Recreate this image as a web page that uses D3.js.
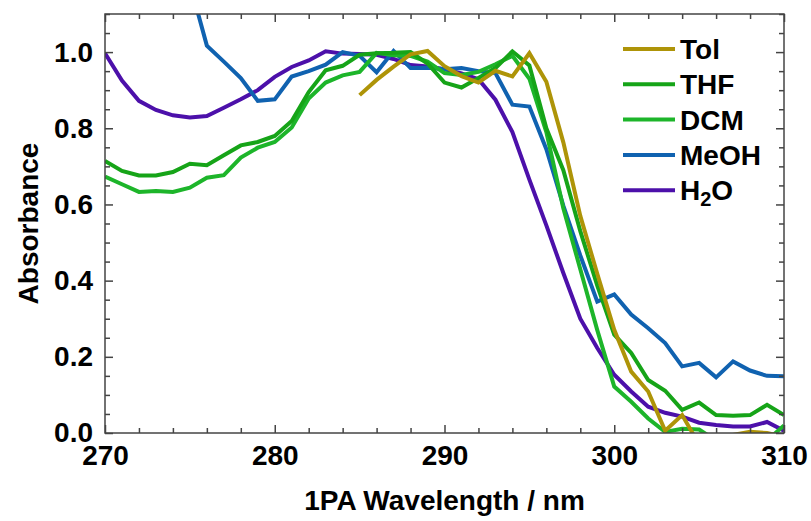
<!DOCTYPE html>
<html>
<head>
<meta charset="utf-8">
<script src="https://d3js.org/d3.v7.min.js"></script>
<style>
body { margin: 0; background: #fff; }
text { font-family: "Liberation Sans", Arial, sans-serif; font-weight: bold; fill: #000; }
.axis text { font-size: 28px; }
.axis line { stroke: #444; stroke-width: 1.5; }
.axis path { display: none; }
</style>
</head>
<body>
<div id="chart"></div>
<script>
// wavelength grid, nm
var wl = d3.range(270, 311);

var tol = [null,null,null,null,null,null,null,null,null,null,
  null,null,null,null,null,0.887,0.927,0.962,0.994,1.003,
  0.963,0.937,0.920,0.951,0.936,0.997,0.922,0.763,0.570,0.418,
  0.271,0.161,0.109,0.006,0.047,-0.030,-0.040,-0.005,0.003,0.000,-0.010];
var thf = [0.714,0.688,0.676,0.676,0.685,0.707,0.703,0.729,0.755,0.764,
  0.780,0.819,0.895,0.952,0.964,0.993,0.997,0.998,1.000,0.970,
  0.920,0.907,0.932,0.958,1.002,0.965,0.800,0.690,0.530,0.387,
  0.258,0.210,0.139,0.111,0.061,0.080,0.047,0.045,0.047,0.074,0.047];
var dcm = [0.673,0.653,0.633,0.635,0.633,0.644,0.670,0.677,0.723,0.749,
  0.764,0.802,0.878,0.920,0.939,0.948,0.998,0.992,0.990,0.975,
  0.945,0.940,0.948,0.968,0.990,0.930,0.790,0.590,0.430,0.270,
  0.122,0.082,0.038,0.003,0.011,0.009,-0.020,-0.030,-0.030,-0.020,0.020];
var meoh = [null,null,null,null,null,1.180,1.017,0.975,0.932,0.872,
  0.876,0.936,0.950,0.967,1.000,0.990,0.947,1.003,0.958,0.959,
  0.955,0.958,0.950,0.945,0.862,0.857,0.745,0.597,0.466,0.345,
  0.364,0.311,0.275,0.236,0.175,0.184,0.146,0.188,0.164,0.150,0.149];
var h2o = [0.997,0.925,0.872,0.848,0.834,0.828,0.832,0.854,0.876,0.900,
  0.935,0.961,0.978,1.002,0.996,0.995,0.993,0.982,0.966,0.962,
  0.955,0.944,0.929,0.875,0.790,0.665,0.545,0.420,0.300,0.223,
  0.153,0.109,0.069,0.053,0.043,0.027,0.021,0.017,0.017,0.029,0.006];

var names = ["Tol", "THF", "DCM", "MeOH", "H2O"];
var colors = ["#ae9408", "#16a418", "#1db52a", "#1062b0", "#4c10aa"];
var seriesVals = [tol, thf, dcm, meoh, h2o];

var xMajor = [270, 280, 290, 300, 310];
var yMajor = [0, 0.2, 0.4, 0.6, 0.8, 1.0];

(function(){
var W = 811, H = 521;
var pL = 105, pR = 784, pT = 14, pB = 433;

var svg = d3.select("#chart").append("svg").attr("width", W).attr("height", H);

var x = d3.scaleLinear().domain([270, 310]).range([pL, pR]);
var y = d3.scaleLinear().domain([0, 1.1]).range([pB, pT]);

svg.append("clipPath").attr("id", "clip")
  .append("rect").attr("x", pL).attr("y", pT)
  .attr("width", pR - pL).attr("height", pB - pT);

var line = d3.line()
  .defined(function(d){ return d[1] !== null; })
  .x(function(d){ return x(d[0]); })
  .y(function(d){ return y(d[1]); });

var plot = svg.append("g").attr("clip-path", "url(#clip)");
// draw back to front so Tol ends on top
for (var i = seriesVals.length - 1; i >= 0; i--) {
  var pts = wl.map(function(w, j){ return [w, seriesVals[i][j]]; });
  plot.append("path").attr("d", line(pts))
    .attr("fill", "none").attr("stroke", colors[i])
    .attr("stroke-width", 4).attr("stroke-linejoin", "miter");
}

// axes, ticks inward
var xMinor = d3.range(270, 311, 2).filter(function(v){ return v % 10 !== 0; });
var yMinor = d3.range(0, 23).map(function(v){ return +(v * 0.05).toFixed(2); })
  .filter(function(v){ return Math.round(v * 100) % 20 !== 0; });

svg.append("g").attr("class", "axis").attr("transform", "translate(0," + pB + ")")
  .call(d3.axisBottom(x).tickValues(xMajor).tickSize(-8).tickPadding(12).tickFormat(d3.format("d")));
svg.append("g").attr("class", "axis").attr("transform", "translate(0," + pB + ")")
  .call(d3.axisBottom(x).tickValues(xMinor).tickSize(-5).tickFormat(""));
svg.append("g").attr("class", "axis").attr("transform", "translate(0," + pT + ")")
  .call(d3.axisTop(x).tickValues(xMajor).tickSize(-8).tickFormat(""));
svg.append("g").attr("class", "axis").attr("transform", "translate(0," + pT + ")")
  .call(d3.axisTop(x).tickValues(xMinor).tickSize(-5).tickFormat(""));

svg.append("g").attr("class", "axis").attr("transform", "translate(" + pL + ",0)")
  .call(d3.axisLeft(y).tickValues(yMajor).tickSize(-8).tickPadding(12).tickFormat(d3.format(".1f")));
svg.append("g").attr("class", "axis").attr("transform", "translate(" + pL + ",0)")
  .call(d3.axisLeft(y).tickValues(yMinor).tickSize(-5).tickFormat(""));
svg.append("g").attr("class", "axis").attr("transform", "translate(" + pR + ",0)")
  .call(d3.axisRight(y).tickValues(yMajor).tickSize(-8).tickFormat(""));
svg.append("g").attr("class", "axis").attr("transform", "translate(" + pR + ",0)")
  .call(d3.axisRight(y).tickValues(yMinor).tickSize(-5).tickFormat(""));

svg.append("rect").attr("x", pL).attr("y", pT)
  .attr("width", pR - pL).attr("height", pB - pT)
  .attr("fill", "none").attr("stroke", "#444").attr("stroke-width", 1.5);

svg.append("text").attr("x", (pL + pR) / 2).attr("y", 510)
  .attr("text-anchor", "middle").style("font-size", "28px")
  .text("1PA Wavelength / nm");
svg.append("text").attr("transform", "translate(38," + ((pT + pB) / 2) + ") rotate(-90)")
  .attr("text-anchor", "middle").style("font-size", "28px")
  .text("Absorbance");

// legend
var lg = svg.append("g");
names.forEach(function(n, i){
  var ly = 49 + i * 35.3;
  lg.append("line").attr("x1", 623).attr("x2", 675).attr("y1", ly).attr("y2", ly)
    .attr("stroke", colors[i]).attr("stroke-width", 4);
  var t = lg.append("text").attr("x", 680).attr("y", ly + 10).style("font-size", "28px");
  if (n === "H2O") {
    t.append("tspan").text("H");
    t.append("tspan").attr("dy", 6).style("font-size", "20px").text("2");
    t.append("tspan").attr("dy", -6).text("O");
  } else {
    t.text(n);
  }
});
})();
</script>
</body>
</html>
